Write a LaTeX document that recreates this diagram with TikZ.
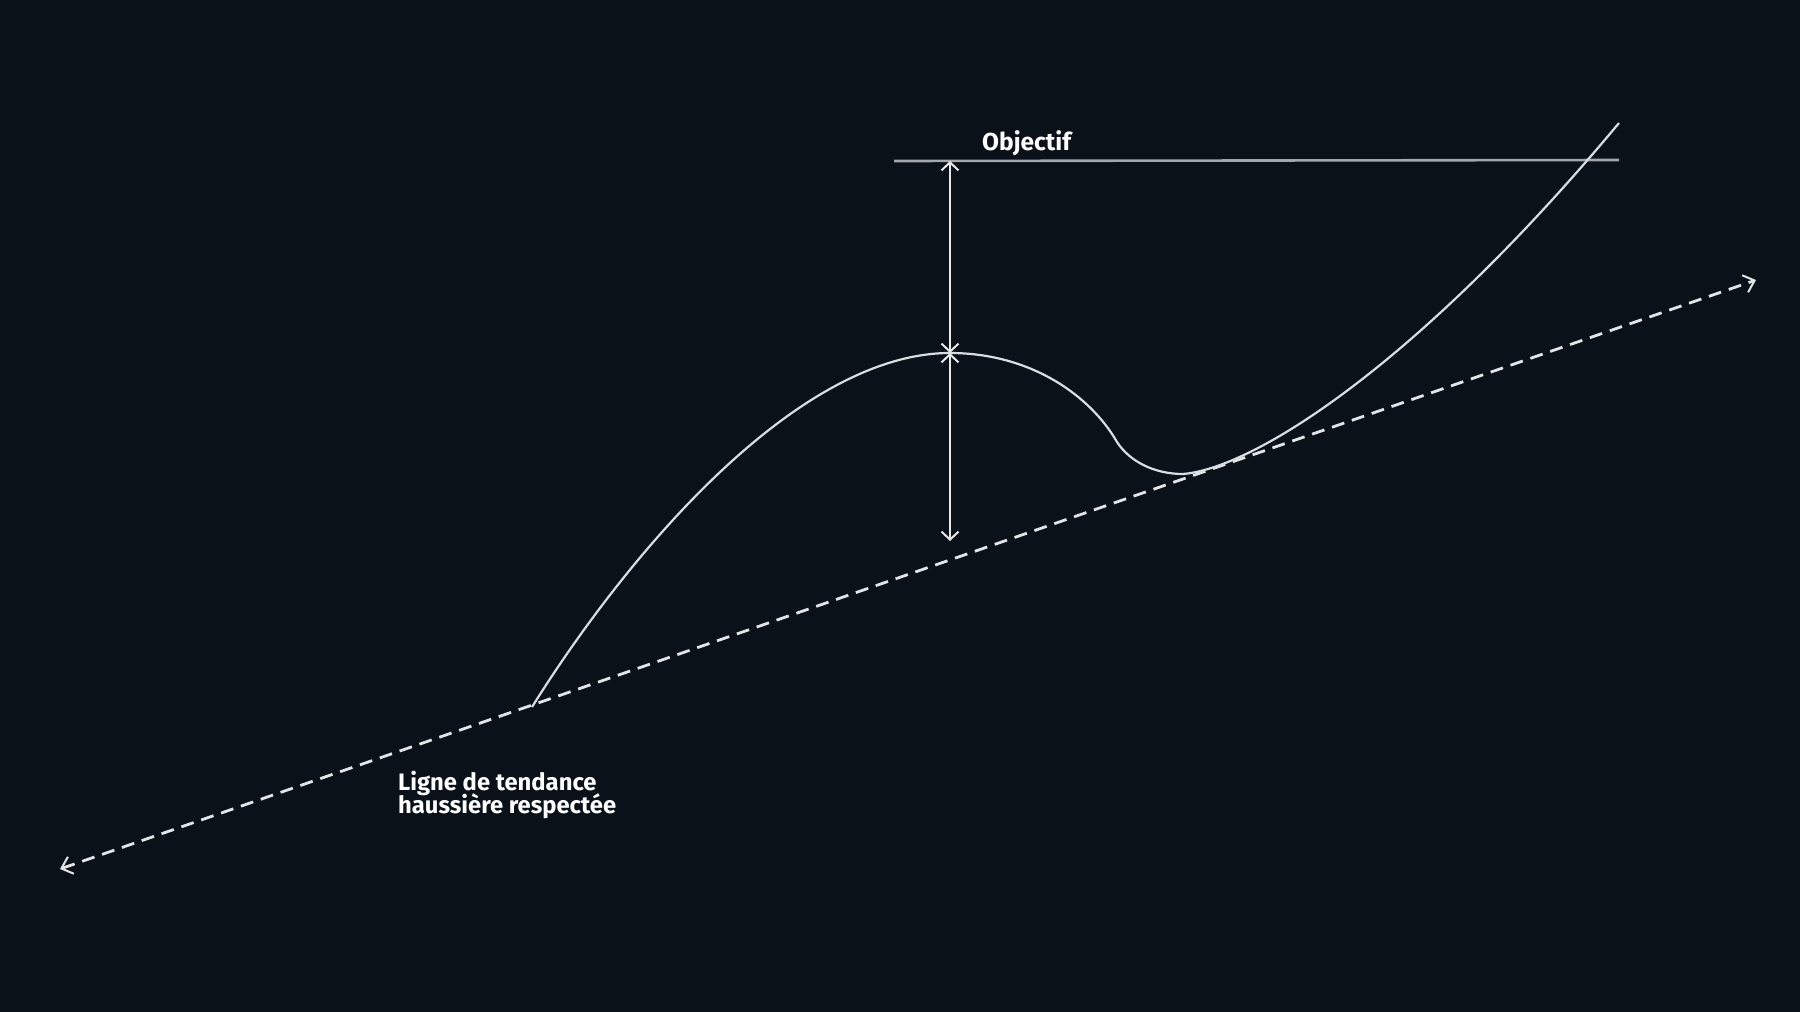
\documentclass[tikz,border=0pt]{standalone}
\usepackage{fontspec}
\setmainfont{Fira Sans}
\usetikzlibrary{arrows.meta}
\definecolor{bgc}{HTML}{0A1119}
\definecolor{curvec}{HTML}{DADDE0}
\definecolor{objc}{HTML}{A3A7AB}
\definecolor{dashc}{HTML}{E2E4E6}
\definecolor{arrc}{HTML}{E6E8EA}
\tikzset{
  barb/.tip={Straight Barb[length=8pt,width=17pt,line width=2pt]},
  trend/.style={draw=dashc,line width=2.8pt,dash pattern=on 13pt off 8pt,{Straight Barb[length=10pt,width=18pt,line width=2pt]}-{Straight Barb[length=10pt,width=18pt,line width=2pt]}},
  price/.style={draw=curvec,line width=2.2pt},
  objline/.style={draw=objc,line width=2.6pt},
  measure/.style={draw=arrc,line width=2pt,barb-barb},
  lbl/.style={text=white,inner sep=0pt,font=\bfseries},
}
\begin{document}
\begin{tikzpicture}[x=1pt,y=-1pt]
\fill[bgc] (0,0) rectangle (1800,1012);
\useasboundingbox (0,0) rectangle (1800,1012);
% coordinates
\coordinate (tl) at (60,869);
\coordinate (tr) at (1756,280);
\coordinate (start) at (532,707);
\coordinate (peak) at (950,353);
\coordinate (kink) at (1117,442);
\coordinate (trough) at (1183,474);
\coordinate (cend) at (1619,123);
\coordinate (objl) at (894,161);
\coordinate (objr) at (1619,160);
\coordinate (mtop) at (950,161);
\coordinate (mbot) at (950,541);
% trend line
\draw[trend] (tl) -- (tr);
% objective line
\draw[objline] (objl) -- (objr);
% price curve
\draw[price] (start) .. controls (632,547) and (800,353) .. (peak)
  .. controls (1030,353) and (1090,395) .. (kink)
  .. controls (1130,462) and (1155,474) .. (trough)
  .. controls (1255,468) and (1419,363) .. (cend);
% measures
\draw[measure] (mtop) -- (peak);
\draw[measure] (peak) -- (mbot);
% labels
\node[lbl,anchor=base west,font=\bfseries\fontsize{24.5}{28}\selectfont] (obj) at (982,150) {Objectif};
\node[lbl,anchor=base west,font=\bfseries\fontsize{23.8}{26}\selectfont] (lab1) at (398,790) {Ligne de tendance};
\node[lbl,anchor=base west,font=\bfseries\fontsize{23.8}{26}\selectfont] (lab2) at (398,813) {haussière respectée};
\end{tikzpicture}
\end{document}
